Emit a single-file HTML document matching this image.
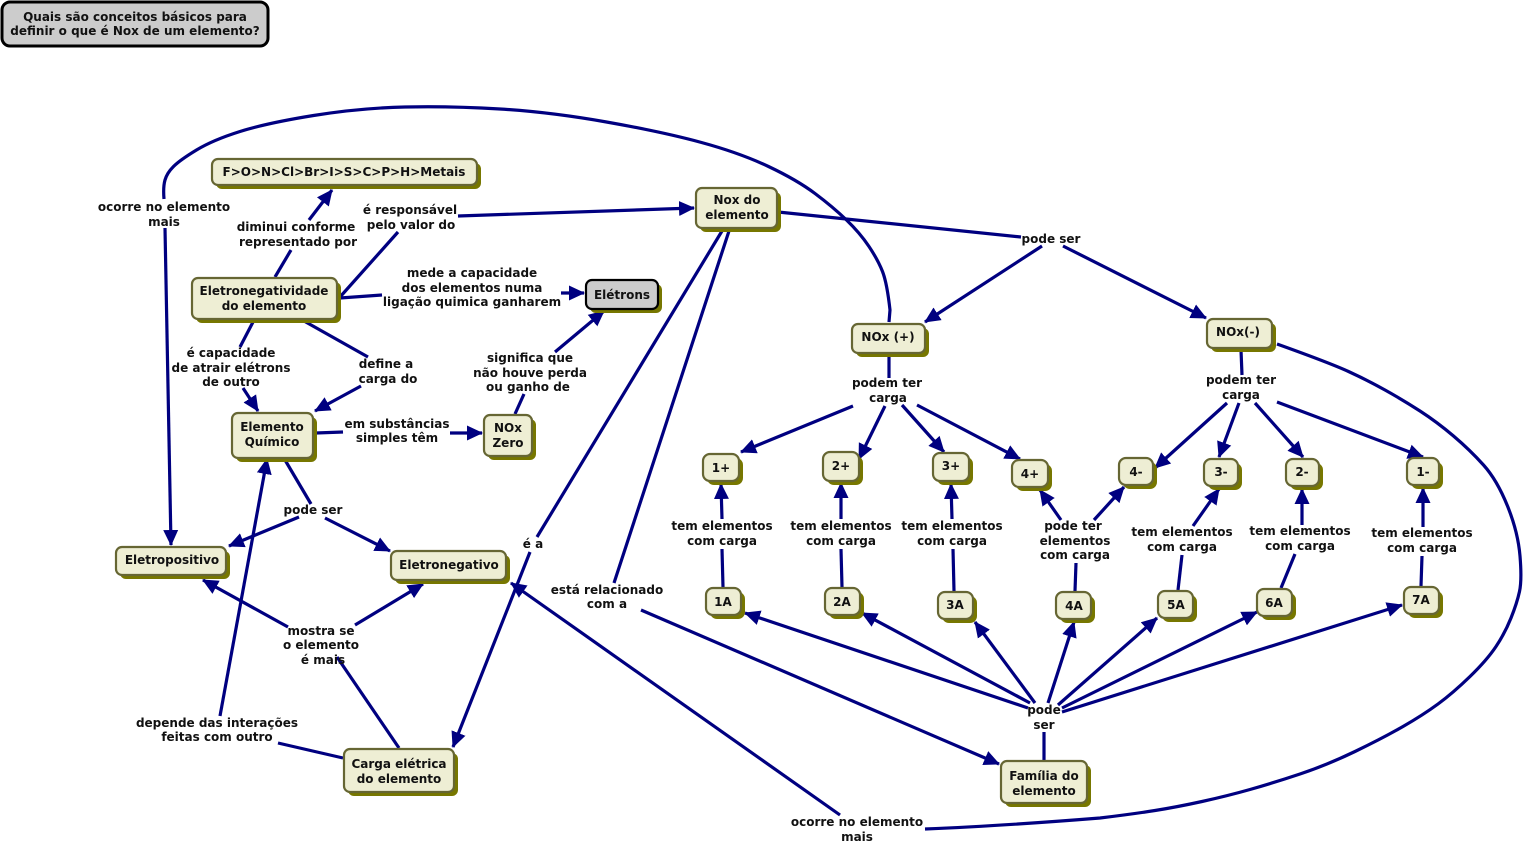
<!DOCTYPE html>
<html><head><meta charset="utf-8"><style>
html,body{margin:0;padding:0;background:#fff}
svg{display:block}
text{font-family:"DejaVu Sans","Liberation Sans",sans-serif;font-weight:bold;font-size:12px;fill:#111;text-anchor:middle}
.l{fill:none;stroke:#000080;stroke-width:3.2;stroke-linejoin:round}
.a{fill:none;stroke:#000080;stroke-width:3.2;marker-end:url(#m)}
.s{fill:#777700;stroke:none}
.n{fill:#eeeed4;stroke:#666633;stroke-width:2.2}
</style></head><body>
<svg width="1525" height="844" viewBox="0 0 1525 844" xmlns="http://www.w3.org/2000/svg">
<defs><marker id="m" markerUnits="userSpaceOnUse" markerWidth="17" markerHeight="17" refX="15" refY="8" orient="auto"><path d="M0,0.5 L16,8 L0,15.5 Z" fill="#000080"/></marker></defs>

<!-- connectors -->
<path class="l" d="M275,277L291,250"/><path class="a" d="M309,220L332,190"/>
<path class="l" d="M889,322L890,310Q887,283 882.5,271.5Q878,260 869,246.5Q860,233 846.5,220Q833,207 815,193.5Q797,180 768.5,166.5Q740,153 701.5,142.5Q663,132 606.5,122Q550,112 500,109Q450,106 405,107Q360,108 313.5,115.5Q267,123 240,131.5Q213,140 196.5,150Q180,160 173.5,166.5Q167,173 165,180Q163,187 164,199"/>
<path class="a" d="M165,228L171,545"/>
<path class="l" d="M340,297L398,232"/><path class="a" d="M458,216L694,208"/>
<path class="l" d="M340,298L382,295"/><path class="a" d="M561,293L584,293"/>
<path class="l" d="M778,212L1021,237"/><path class="a" d="M1042,246L925,322"/><path class="a" d="M1063,246L1206,318"/>
<path class="l" d="M722,231L537,537"/><path class="a" d="M530,552L453,747"/>
<path class="l" d="M729,231L614,583"/><path class="a" d="M641,610L999,764"/>
<path class="l" d="M253,322L240,347"/><path class="a" d="M243,388L258,411"/>
<path class="l" d="M304,321L368,357"/><path class="a" d="M361,386L315,411"/>
<path class="l" d="M316,433L343,432"/><path class="a" d="M450,433L482,433"/>
<path class="l" d="M515,414L524,394"/><path class="a" d="M555,352L604,311"/>
<path class="l" d="M285,460L311,504"/><path class="a" d="M299,517L229,546"/><path class="a" d="M325,518L390,551"/>
<path class="l" d="M399,748L337,657"/><path class="a" d="M288,627L203,580"/><path class="a" d="M355,625L423,584"/>
<path class="l" d="M343,758L278,743"/><path class="a" d="M220,716L267,459"/>
<path class="l" d="M889,354L889,378"/><path class="a" d="M853,406L741,452"/><path class="a" d="M885,406L859,459"/><path class="a" d="M902,405L944,452"/><path class="a" d="M917,405L1020,459"/>
<path class="l" d="M1241,350L1242,375"/><path class="a" d="M1227,403L1155,468"/><path class="a" d="M1239,403L1219,457"/><path class="a" d="M1255,403L1303,457"/><path class="a" d="M1277,402L1423,457"/>
<path class="l" d="M723,587L722,549"/><path class="a" d="M722,519L721,484"/>
<path class="l" d="M842,587L841,549"/><path class="a" d="M841,519L841,483"/>
<path class="l" d="M954,591L953,549"/><path class="a" d="M952,519L951,484"/>
<path class="l" d="M1075,591L1076,563"/><path class="a" d="M1061,520L1040,490"/><path class="a" d="M1094,520L1124,487"/>
<path class="l" d="M1178,590L1182,555"/><path class="a" d="M1193,526L1219,489"/>
<path class="l" d="M1281,588L1295,554"/><path class="a" d="M1302,525L1302,489"/>
<path class="l" d="M1421,586L1422,556"/><path class="a" d="M1423,527L1423,488"/>
<path class="l" d="M1044,760L1044,732"/>
<path class="a" d="M1028,708L745,613"/><path class="a" d="M1030,703L862,613"/><path class="a" d="M1035,703L975,622"/><path class="a" d="M1048,703L1074,622"/><path class="a" d="M1058,705L1157,618"/><path class="a" d="M1062,708L1257,612"/><path class="a" d="M1062,712L1402,605"/>
<path class="l" d="M1277,344Q1330,363 1348.5,371.5Q1367,380 1385,390Q1403,400 1420,411Q1437,422 1453.5,436Q1470,450 1483.5,465Q1497,480 1507.5,506Q1518,532 1520,556Q1522,580 1519.5,591.5Q1517,603 1511,618Q1505,633 1496,646.5Q1487,660 1470,676.5Q1453,693 1438,704Q1423,715 1403,726.5Q1383,738 1355,751.5Q1327,765 1300,774Q1273,783 1250,789.5Q1227,796 1202,801.5Q1177,807 1155,810.5Q1133,814 1100,818Q1000,826 925,829"/>
<path class="a" d="M840,815L511,583"/>

<!-- title -->
<rect x="2" y="2" width="266" height="44" rx="8" fill="#cccccc" stroke="#000" stroke-width="3"/>

<!-- nodes: shadow + box -->
<rect class="s" x="216" y="163" width="265" height="26" rx="6"/><rect class="n" x="212" y="159" width="265" height="26" rx="6"/>
<rect class="s" x="700" y="192" width="81" height="40" rx="6"/><rect class="n" x="696" y="188" width="81" height="40" rx="6"/>
<rect class="s" x="196" y="282" width="145" height="41" rx="6"/><rect class="n" x="192" y="278" width="145" height="41" rx="6"/>
<rect class="s" x="590" y="284" width="72" height="29" rx="6"/><rect class="n" style="fill:#ccc;stroke:#000" x="586" y="280" width="72" height="29" rx="6"/>
<rect class="s" x="856" y="328" width="73" height="29" rx="6"/><rect class="n" x="852" y="324" width="73" height="29" rx="6"/>
<rect class="s" x="1211" y="323" width="65" height="29" rx="6"/><rect class="n" x="1207" y="319" width="65" height="29" rx="6"/>
<rect class="s" x="236" y="417" width="81" height="45" rx="6"/><rect class="n" x="232" y="413" width="81" height="45" rx="6"/>
<rect class="s" x="488" y="419" width="48" height="41" rx="6"/><rect class="n" x="484" y="415" width="48" height="41" rx="6"/>
<rect class="s" x="120" y="551" width="110" height="28" rx="6"/><rect class="n" x="116" y="547" width="110" height="28" rx="6"/>
<rect class="s" x="395" y="555" width="115" height="29" rx="6"/><rect class="n" x="391" y="551" width="115" height="29" rx="6"/>
<rect class="s" x="348" y="753" width="110" height="43" rx="6"/><rect class="n" x="344" y="749" width="110" height="43" rx="6"/>
<rect class="s" x="1005" y="765" width="86" height="42" rx="6"/><rect class="n" x="1001" y="761" width="86" height="42" rx="6"/>

<rect class="s" x="707" y="458" width="36" height="27" rx="7"/><rect class="n" x="703" y="454" width="36" height="27" rx="7"/>
<rect class="s" x="827" y="456" width="36" height="29" rx="7"/><rect class="n" x="823" y="452" width="36" height="29" rx="7"/>
<rect class="s" x="937" y="457" width="36" height="28" rx="7"/><rect class="n" x="933" y="453" width="36" height="28" rx="7"/>
<rect class="s" x="1016" y="464" width="36" height="27" rx="7"/><rect class="n" x="1012" y="460" width="36" height="27" rx="7"/>
<rect class="s" x="1123" y="462" width="34" height="27" rx="7"/><rect class="n" x="1119" y="458" width="34" height="27" rx="7"/>
<rect class="s" x="1208" y="463" width="34" height="27" rx="7"/><rect class="n" x="1204" y="459" width="34" height="27" rx="7"/>
<rect class="s" x="1290" y="463" width="33" height="27" rx="7"/><rect class="n" x="1286" y="459" width="33" height="27" rx="7"/>
<rect class="s" x="1411" y="462" width="32" height="27" rx="7"/><rect class="n" x="1407" y="458" width="32" height="27" rx="7"/>
<rect class="s" x="710" y="592" width="35" height="27" rx="7"/><rect class="n" x="706" y="588" width="35" height="27" rx="7"/>
<rect class="s" x="829" y="592" width="35" height="27" rx="7"/><rect class="n" x="825" y="588" width="35" height="27" rx="7"/>
<rect class="s" x="942" y="596" width="35" height="27" rx="7"/><rect class="n" x="938" y="592" width="35" height="27" rx="7"/>
<rect class="s" x="1060" y="596" width="35" height="27" rx="7"/><rect class="n" x="1056" y="592" width="35" height="27" rx="7"/>
<rect class="s" x="1162" y="595" width="35" height="27" rx="7"/><rect class="n" x="1158" y="591" width="35" height="27" rx="7"/>
<rect class="s" x="1261" y="593" width="35" height="27" rx="7"/><rect class="n" x="1257" y="589" width="35" height="27" rx="7"/>
<rect class="s" x="1408" y="591" width="35" height="27" rx="7"/><rect class="n" x="1404" y="587" width="35" height="27" rx="7"/>

<!-- node text -->
<text x="135" y="21">Quais são conceitos básicos para</text><text x="135" y="35">definir o que é Nox de um elemento?</text>
<text x="344" y="176">F&gt;O&gt;N&gt;Cl&gt;Br&gt;I&gt;S&gt;C&gt;P&gt;H&gt;Metais</text>
<text x="737" y="204">Nox do</text><text x="737" y="219">elemento</text>
<text x="264" y="295">Eletronegatividade</text><text x="264" y="310">do elemento</text>
<text x="622" y="299">Elétrons</text>
<text x="888" y="341">NOx (+)</text>
<text x="1238" y="336">NOx(-)</text>
<text x="272" y="431">Elemento</text><text x="272" y="446">Químico</text>
<text x="508" y="432">NOx</text><text x="508" y="447">Zero</text>
<text x="172" y="564">Eletropositivo</text>
<text x="449" y="569">Eletronegativo</text>
<text x="399" y="768">Carga elétrica</text><text x="399" y="783">do elemento</text>
<text x="1044" y="780">Família do</text><text x="1044" y="795">elemento</text>
<text x="721" y="472">1+</text><text x="841" y="470">2+</text><text x="951" y="470">3+</text><text x="1030" y="478">4+</text>
<text x="1136" y="476">4-</text><text x="1221" y="476">3-</text><text x="1302" y="476">2-</text><text x="1423" y="476">1-</text>
<text x="723" y="606">1A</text><text x="842" y="606">2A</text><text x="955" y="609">3A</text><text x="1074" y="610">4A</text><text x="1176" y="609">5A</text><text x="1274" y="607">6A</text><text x="1421" y="604">7A</text>

<!-- link labels -->
<text x="164" y="211">ocorre no elemento</text><text x="164" y="226">mais</text>
<text x="296" y="231">diminui conforme</text><text x="298" y="246">representado por</text>
<text x="410" y="214">é responsável</text><text x="411" y="229">pelo valor do</text>
<text x="472" y="277">mede a capacidade</text><text x="472" y="292">dos elementos numa</text><text x="472" y="306">ligação quimica ganharem</text>
<text x="1051" y="243">pode ser</text>
<text x="231" y="357">é capacidade</text><text x="231" y="372">de atrair elétrons</text><text x="231" y="386">de outro</text>
<text x="386" y="368">define a</text><text x="388" y="383">carga do</text>
<text x="530" y="362">significa que</text><text x="530" y="377">não houve perda</text><text x="528" y="391">ou ganho de</text>
<text x="397" y="428">em substâncias</text><text x="397" y="442">simples têm</text>
<text x="313" y="514">pode ser</text>
<text x="533" y="548">é a</text>
<text x="607" y="594">está relacionado</text><text x="607" y="608">com a</text>
<text x="321" y="635">mostra se</text><text x="321" y="649">o elemento</text><text x="323" y="664">é mais</text>
<text x="217" y="727">depende das interações</text><text x="217" y="741">feitas com outro</text>
<text x="857" y="826">ocorre no elemento</text><text x="857" y="841">mais</text>
<text x="887" y="387">podem ter</text><text x="888" y="402">carga</text>
<text x="1241" y="384">podem ter</text><text x="1241" y="399">carga</text>
<text x="722" y="530">tem elementos</text><text x="722" y="545">com carga</text>
<text x="841" y="530">tem elementos</text><text x="841" y="545">com carga</text>
<text x="952" y="530">tem elementos</text><text x="952" y="545">com carga</text>
<text x="1073" y="530">pode ter</text><text x="1075" y="545">elementos</text><text x="1075" y="559">com carga</text>
<text x="1182" y="536">tem elementos</text><text x="1182" y="551">com carga</text>
<text x="1300" y="535">tem elementos</text><text x="1300" y="550">com carga</text>
<text x="1422" y="537">tem elementos</text><text x="1422" y="552">com carga</text>
<text x="1044" y="714">pode</text><text x="1044" y="729">ser</text>
</svg>
</body></html>
